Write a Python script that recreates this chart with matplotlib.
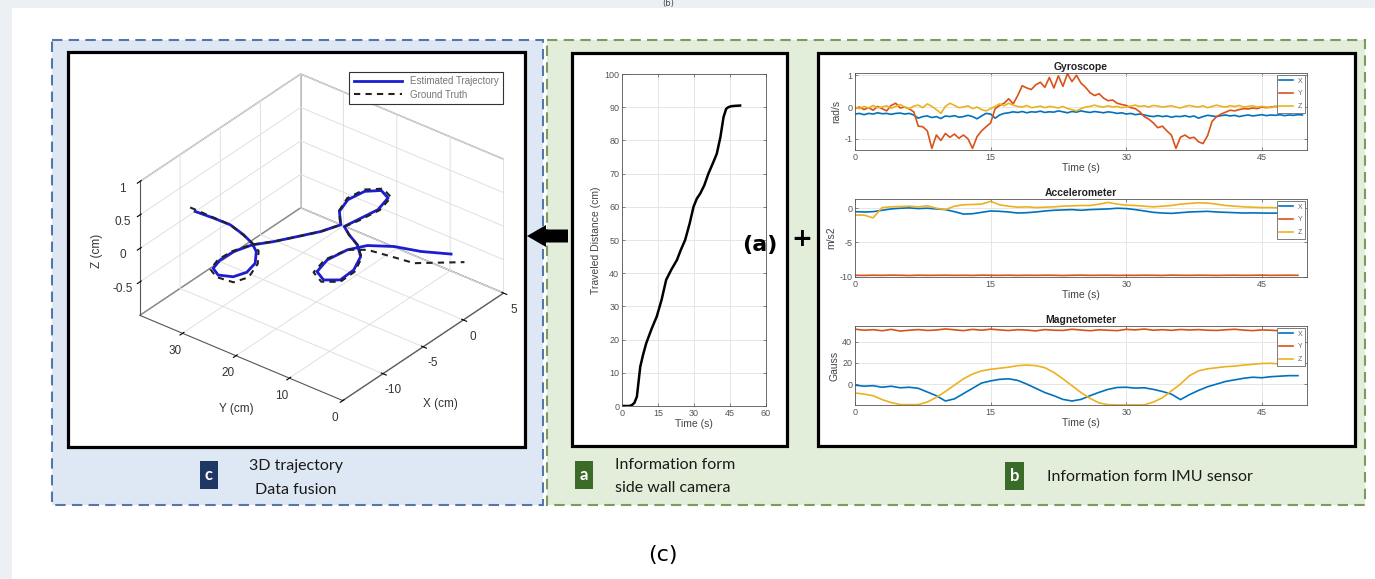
import numpy as np
import matplotlib.pyplot as plt
from matplotlib.patches import Rectangle, Polygon

W, H = 1375, 579

# ---------------- data ----------------
# (a) traveled distance from the side wall camera
dist_t = [0, 1, 2, 3, 4.2, 5.2, 6.2, 7.6, 8.8, 10.1, 12.2, 14.5, 16.5, 18.4, 20.5,
          22.9, 24.5, 26.3, 28.2, 29.8, 31.2, 32.6, 34.3, 36.0, 37.8, 39.5, 41.0,
          42.3, 43.4, 44.3, 45.5, 47.0, 49.2]
dist_cm = [0, 0, 0, 0, 0.3, 1.0, 2.8, 11.8, 15.5, 18.9, 23, 27, 32, 38, 41,
           44, 47, 50, 55, 60, 62.5, 64, 66.5, 70, 73, 76, 81,
           87, 89.5, 90, 90.3, 90.4, 90.5]

# (b) IMU gyroscope, sampled every 0.5 s
gyro_x = [-0.22, -0.20, -0.24, -0.20, -0.22, -0.18, -0.21, -0.20, -0.23, -0.20,
          -0.19, -0.22, -0.20, -0.25, -0.35, -0.30, -0.28, -0.33, -0.30, -0.36,
          -0.28, -0.30, -0.27, -0.32, -0.30, -0.26, -0.30, -0.37, -0.28, -0.20,
          -0.22, -0.35, -0.25, -0.20, -0.18, -0.15, -0.17, -0.14, -0.18, -0.15,
          -0.16, -0.13, -0.17, -0.15, -0.16, -0.12, -0.15, -0.18, -0.14, -0.16,
          -0.12, -0.15, -0.17, -0.14, -0.16, -0.18, -0.15, -0.17, -0.20, -0.18,
          -0.22, -0.20, -0.24, -0.22, -0.25, -0.28, -0.30, -0.27, -0.30, -0.28,
          -0.32, -0.29, -0.30, -0.27, -0.31, -0.28, -0.35, -0.30, -0.26, -0.28,
          -0.30, -0.27, -0.25, -0.28, -0.26, -0.30, -0.27, -0.25, -0.28, -0.26,
          -0.24, -0.27, -0.25, -0.26, -0.24, -0.27, -0.25, -0.26, -0.24, -0.25]
gyro_y = [-0.05, 0.00, -0.08, -0.02, -0.10, 0.02, -0.05, -0.12, 0.05, 0.12,
          -0.03, 0.00, -0.06, -0.15, -0.60, -0.62, -0.75, -1.30, -0.88, -1.05,
          -0.83, -0.95, -0.85, -0.98, -0.88, -1.00, -1.30, -0.93, -0.75, -0.62,
          -0.50, -0.05, 0.05, 0.12, 0.26, 0.10, 0.36, 0.67, 0.60, 0.55,
          0.70, 0.78, 0.62, 0.93, 0.60, 0.98, 0.65, 1.05, 0.80, 1.00,
          0.75, 0.62, 0.45, 0.36, 0.42, 0.28, 0.20, 0.22, 0.12, 0.08,
          0.05, -0.02, -0.05, -0.15, -0.30, -0.38, -0.50, -0.65, -0.60, -0.75,
          -0.88, -1.30, -0.95, -0.88, -0.98, -0.95, -1.09, -1.15, -0.90, -0.45,
          -0.30, -0.22, -0.16, -0.10, -0.12, -0.08, -0.05, -0.06, -0.03, -0.05,
          0.00, -0.02, 0.00, 0.02, 0.00, 0.01, 0.00, 0.02, 0.00, 0.01]
gyro_z = [0.00, -0.05, 0.02, -0.03, 0.05, -0.02, 0.00, 0.04, -0.04, 0.02,
          0.08, 0.00, -0.05, 0.03, 0.06, -0.02, 0.10, 0.02, -0.08, -0.20,
          0.02, 0.12, 0.05, -0.02, 0.00, 0.04, -0.05, 0.00, -0.08, -0.12,
          -0.05, 0.02, 0.10, 0.04, 0.12, 0.06, 0.02, 0.00, 0.05, -0.02,
          0.00, 0.03, -0.02, 0.02, 0.00, -0.03, 0.02, -0.05, -0.08, -0.12,
          -0.05, 0.00, 0.02, 0.06, 0.02, 0.00, 0.04, 0.00, 0.02, -0.02,
          0.00, 0.03, 0.06, 0.02, 0.04, 0.00, 0.05, 0.03, 0.00, 0.02,
          0.04, 0.00, -0.03, 0.02, 0.05, 0.02, 0.00, 0.04, -0.02, 0.02,
          0.06, 0.02, 0.00, 0.04, 0.02, 0.05, 0.00, 0.02, 0.04, 0.00,
          0.02, 0.00, -0.02, 0.02, 0.00, 0.03, 0.00, 0.02, 0.00, 0.01]

# accelerometer, sampled every 1 s
acc_x = [-0.50, -0.55, -0.50, -0.30, -0.10, 0.00, 0.05, -0.05, 0.00, -0.10,
         -0.20, -0.50, -0.85, -0.80, -0.60, -0.40, -0.45, -0.55, -0.70, -0.65,
         -0.55, -0.40, -0.30, -0.25, -0.20, -0.30, -0.20, -0.15, -0.10, 0.00,
         -0.05, -0.20, -0.40, -0.60, -0.70, -0.75, -0.65, -0.55, -0.50, -0.45,
         -0.55, -0.60, -0.65, -0.70, -0.68, -0.70, -0.72, -0.70, -0.70, -0.72]
acc_y = [-9.80, -9.82, -9.79, -9.81, -9.78, -9.80, -9.83, -9.79, -9.81, -9.80,
         -9.79, -9.81, -9.80, -9.82, -9.78, -9.80, -9.81, -9.79, -9.82, -9.80,
         -9.81, -9.79, -9.80, -9.83, -9.80, -9.78, -9.81, -9.80, -9.79, -9.82,
         -9.80, -9.81, -9.79, -9.80, -9.82, -9.78, -9.80, -9.81, -9.79, -9.80,
         -9.82, -9.80, -9.79, -9.81, -9.80, -9.78, -9.81, -9.80, -9.79, -9.80]
acc_z = [-1.00, -1.00, -1.40, 0.10, 0.20, 0.25, 0.30, 0.20, 0.35, 0.00,
         -0.20, 0.30, 0.50, 0.55, 0.60, 1.00, 0.50, 0.30, 0.15, 0.20,
         0.10, 0.15, 0.20, 0.30, 0.35, 0.40, 0.40, 0.60, 0.85, 0.60,
         0.45, 0.40, 0.30, 0.20, 0.30, 0.40, 0.60, 0.70, 0.80, 0.75,
         0.60, 0.40, 0.30, 0.20, 0.15, 0.10, 0.10, 0.05, 0.10, 0.05]

# magnetometer, sampled every 1 s
mag_x = [-1.0, -2.0, -1.5, -3.0, -2.0, -3.5, -3.0, -4.0, -7.5, -11.0,
         -16.0, -14.0, -9.0, -4.0, 1.0, 3.0, 4.5, 5.0, 3.5, 0.0,
         -4.0, -8.0, -11.0, -14.5, -16.0, -14.5, -11.0, -7.8, -5.0, -3.2,
         -3.0, -3.8, -3.5, -5.0, -7.0, -9.5, -14.7, -10.0, -6.0, -2.5,
         0.0, 2.5, 4.0, 5.5, 6.5, 6.0, 7.0, 7.5, 8.0, 8.0]
mag_y = [52.0, 51.0, 51.5, 50.5, 51.8, 50.2, 51.0, 51.6, 50.8, 51.2,
         52.2, 51.4, 50.6, 51.8, 51.0, 52.0, 51.3, 50.7, 51.5, 51.1,
         50.4, 51.6, 51.0, 50.8, 51.9, 51.2, 50.5, 51.4, 51.0, 50.6,
         51.8, 51.3, 52.1, 51.0, 51.5, 50.9, 51.7, 51.2, 51.6, 51.0,
         50.8, 51.4, 51.9, 51.1, 50.6, 51.3, 51.0, 50.5, 50.8, 50.4]
mag_z = [-8.4, -9.5, -11.0, -14.7, -17.5, -19.4, -19.5, -19.4, -17.0, -12.5,
         -7.0, -1.0, 5.0, 9.5, 12.5, 14.0, 15.0, 16.0, 17.5, 18.0,
         17.5, 15.5, 11.0, 5.0, -1.5, -8.0, -13.5, -17.8, -19.5, -19.7,
         -19.7, -19.6, -19.7, -17.0, -13.0, -6.5, 0.0, 8.0, 12.5, 14.5,
         15.5, 16.5, 17.0, 18.0, 18.7, 19.5, 19.7, 19.0, 18.5, 18.0]

# (c) 3D trajectory (cm)
est_x = [-11.95, -11.06, -10.26, -9.62, -9.02, -9.78, -11.17, -12.60, -13.76, -14.29,
         -13.76, -12.48, -10.88, -9.22, -7.80, -6.09, -4.39, -2.65, -1.20, 0.55,
         2.31, 3.20, 2.68, 0.85, -1.27, -2.69, -3.40, -4.15, -5.34, -7.19,
         -8.98, -9.79, -9.15, -7.32, -5.21, -3.75, -2.58, -1.86, -0.71]
est_y = [32.25, 30.15, 28.20, 26.67, 26.00, 24.06, 22.18, 21.60, 22.39, 24.41,
         26.14, 26.79, 26.68, 25.70, 23.78, 21.93, 20.10, 18.95, 21.42, 22.46,
         21.96, 20.20, 18.13, 17.28, 17.87, 18.27, 16.27, 13.59, 11.20, 9.70,
         9.52, 11.44, 13.63, 14.48, 13.89, 12.32, 9.08, 5.14, 1.23]
est_z = [0.50, 0.40, 0.30, 0.15, 0.00, 0.00, 0.00, 0.00, 0.00, 0.00,
         0.00, 0.00, 0.00, 0.00, 0.00, 0.00, 0.00, 0.00, 0.00, 0.00,
         0.00, 0.00, 0.00, 0.00, 0.00, 0.00, 0.00, 0.00, 0.00, 0.00,
         0.00, 0.00, 0.00, 0.00, 0.00, 0.00, 0.00, 0.00, 0.00]
gt_x = [-11.73, -11.00, -10.10, -9.50, -9.00, -9.60, -11.10, -12.70, -14.00, -14.60,
        -14.00, -12.50, -10.90, -9.20, -7.80, -6.10, -4.40, -2.70, -1.10, 0.70,
        2.50, 3.50, 2.90, 0.90, -1.30, -2.70, -3.40, -4.20, -5.40, -7.30,
        -9.20, -10.10, -9.40, -7.40, -5.20, -4.24, -3.50, -2.76, 0.54]
gt_y = [33.50, 30.60, 28.50, 26.90, 26.00, 23.90, 21.80, 21.10, 22.00, 24.30,
        26.30, 27.10, 26.90, 25.80, 23.80, 21.90, 20.10, 19.00, 21.60, 22.80,
        22.30, 20.30, 17.90, 17.00, 17.60, 18.20, 16.30, 13.50, 10.90, 9.30,
        9.20, 11.40, 13.90, 14.80, 13.90, 11.58, 8.50, 5.06, 0.61]
gt_z = [0.50, 0.40, 0.28, 0.13, 0.00, 0.00, 0.00, -0.05, -0.05, 0.00,
        0.00, 0.00, 0.00, 0.00, 0.00, 0.00, 0.00, 0.00, 0.00, 0.00,
        0.00, 0.00, 0.00, 0.00, 0.00, 0.00, 0.00, 0.00, 0.00, 0.00,
        0.00, 0.00, 0.00, 0.00, 0.00, 0.00, -0.05, -0.10, -0.20]

gyro_t = np.arange(len(gyro_y)) * 0.5
acc_t = np.arange(len(acc_x)) * 1.0
mag_t = np.arange(len(mag_x)) * 1.0

C_BLUE, C_ORANGE, C_YELLOW = '#0072BD', '#D95319', '#EDB120'

plt.rcParams['font.family'] = ['Liberation Sans', 'DejaVu Sans']
plt.rcParams['axes.unicode_minus'] = False
plt.rcParams['grid.color'] = '#e2e2e2'
plt.rcParams['grid.linewidth'] = 0.6


def box(x0, y0, x1, y1):
    # pixel rectangle (top-left origin) -> figure fraction
    return [x0 / W, 1 - y1 / H, (x1 - x0) / W, (y1 - y0) / H]


fig = plt.figure(figsize=(W / 100, H / 100), dpi=100)

# ---------------- background layout ----------------
bg = fig.add_axes([0, 0, 1, 1])
bg.set_xlim(0, W)
bg.set_ylim(H, 0)
bg.axis('off')
bg.add_patch(Rectangle((0, 0), W, 8, fc='#eceff3', ec='none'))
bg.add_patch(Rectangle((0, 0), 12, H, fc='#eceff3', ec='none'))
bg.text(668, 8, '(b)', ha='center', va='bottom', fontsize=6, color='#444444',
        family='DejaVu Sans')

bg.add_patch(Rectangle((52, 40), 491, 465, fc='#dee8f4', ec='#5476aa', lw=1.5, ls=(0, (5, 3))))
bg.add_patch(Rectangle((547, 40), 818, 465, fc='#e2eed9', ec='#7b9c5e', lw=1.5, ls=(0, (5, 3))))

for x0, y0, x1, y1 in [(68, 52, 525, 447), (572, 53, 787, 446), (818, 53, 1355, 446)]:
    bg.add_patch(Rectangle((x0, y0), x1 - x0, y1 - y0, fc='white', ec='black', lw=2.3))

bg.add_patch(Polygon([(527, 236), (546, 225), (546, 229.5), (568, 229.5), (568, 242.5),
                      (546, 242.5), (546, 247)], closed=True, fc='black', ec='none'))

# panel captions
lab = dict(family='Lato', fontsize=11.5, color='#1a1a1a')
bg.add_patch(Rectangle((200, 461), 18, 28, fc='#1f3763', ec='none'))
bg.text(209, 475, 'c', ha='center', va='center', color='white', fontsize=12,
        fontweight='bold', family='Lato')
bg.text(296, 466, '3D trajectory', ha='center', va='center', **lab)
bg.text(296, 490, 'Data fusion', ha='center', va='center', **lab)

bg.add_patch(Rectangle((575, 461), 18, 28, fc='#3b6b28', ec='none'))
bg.text(584, 475, 'a', ha='center', va='center', color='white', fontsize=12,
        fontweight='bold', family='Lato')
bg.text(615, 465, 'Information form', ha='left', va='center', **lab)
bg.text(615, 488, 'side wall camera', ha='left', va='center', **lab)

bg.add_patch(Rectangle((1005, 462), 19, 28, fc='#3b6b28', ec='none'))
bg.text(1014.5, 476, 'b', ha='center', va='center', color='white', fontsize=12,
        fontweight='bold', family='Lato')
bg.text(1047, 477, 'Information form IMU sensor', ha='left', va='center', **lab)

bg.text(663, 555, '(c)', ha='center', va='center', fontsize=16, family='DejaVu Sans')


def matlab_style(ax, fs=6.5):
    ax.grid(True)
    ax.set_axisbelow(True)
    for s in ax.spines.values():
        s.set_color('#555555')
        s.set_linewidth(0.6)
    ax.tick_params(direction='in', top=True, right=True, length=2.5, width=0.5,
                   labelsize=fs, colors='#555555', pad=2)


# ---------------- (a) traveled distance ----------------
axd = fig.add_axes(box(622, 74, 766, 406))
axd.plot(dist_t, dist_cm, color='black', lw=1.8)
axd.set_xlim(0, 60)
axd.set_ylim(0, 100)
axd.set_xticks([0, 15, 30, 45, 60])
axd.set_yticks(range(0, 101, 10))
matlab_style(axd, 6.5)
axd.set_xlabel('Time (s)', fontsize=7.5, color='#444444', labelpad=1)
axd.set_ylabel('Traveled Distance (cm)', fontsize=7.5, color='#444444', labelpad=2)

# ---------------- (b) IMU panels ----------------
imu = [
    ('Gyroscope', 'rad/s', (73, 150), gyro_t, (gyro_x, gyro_y, gyro_z), (-1.35, 1.07), [-1, 0, 1]),
    ('Accelerometer', 'm/s2', (199, 277), acc_t, (acc_x, acc_y, acc_z), (-10.05, 1.35), [-10, -5, 0]),
    ('Magnetometer', 'Gauss', (326, 405), mag_t, (mag_x, mag_y, mag_z), (-19.8, 55), [0, 20, 40]),
]
for title, ylab, (y0, y1), t, series, ylim, yt in imu:
    ax = fig.add_axes(box(855, y0, 1307, y1))
    for vals, c, name in zip(series, (C_BLUE, C_ORANGE, C_YELLOW), ('X', 'Y', 'Z')):
        ax.plot(t, vals, color=c, lw=1.2, label=name)
    ax.set_xlim(0, 50)
    ax.set_ylim(*ylim)
    ax.set_xticks([0, 15, 30, 45])
    ax.set_yticks(yt)
    matlab_style(ax, 6.5)
    ax.set_title(title, fontsize=7.5, fontweight='bold', pad=2.5, color='#222222')
    ax.set_xlabel('Time (s)', fontsize=7.5, color='#444444', labelpad=1)
    ax.set_ylabel(ylab, fontsize=7.5, color='#444444', labelpad=2)
    leg = ax.legend(loc='upper right', fontsize=5, handlelength=2.0, borderpad=0.4,
                    labelspacing=0.8, borderaxespad=0.3, fancybox=False, framealpha=1,
                    handletextpad=0.6)
    leg.get_frame().set_edgecolor('#666666')
    leg.get_frame().set_linewidth(0.6)
    for txt in leg.get_texts():
        txt.set_color('#666666')

# ---------------- (c) 3D trajectory ----------------
ax3 = fig.add_axes(box(92, 49, 541, 436), projection='3d', proj_type='ortho')
ax3.patch.set_alpha(0)
ax3.plot(est_x, est_y, est_z, color='#1c1cd0', lw=2.0, label='Estimated Trajectory')
ax3.plot(gt_x, gt_y, gt_z, color='#222222', lw=1.5, ls=(0, (3, 2.5)), label='Ground Truth')
ax3.set_xlim(-15, 5)
ax3.set_ylim(0, 38)
ax3.set_zlim(-1, 1)
ax3.set_xticks([-10, -5, 0, 5])
ax3.set_yticks([0, 10, 20, 30])
ax3.set_zticks([-0.5, 0, 0.5, 1])
ax3.set_zticklabels(['-0.5', '0', '0.5', '1'])
ax3.set_box_aspect((1, 1, 0.61))
ax3.view_init(elev=32, azim=-141.6)
for a in (ax3.xaxis, ax3.yaxis, ax3.zaxis):
    a.set_pane_color((1, 1, 1, 1))
    a.pane.set_edgecolor('#8a8a8a')
    a.line.set_color('#555555')
    a._axinfo['grid'].update(color='#e0e0e0', linewidth=0.7)
ax3.tick_params(labelsize=8.5, labelcolor='#333333', pad=-1)
ax3.set_zlabel('Z (cm)', fontsize=8.5, color='#333333', labelpad=-4)
leg3 = ax3.legend(loc='upper right', bbox_to_anchor=(508 / W, 1 - 67 / H),
                  bbox_transform=fig.transFigure, fontsize=7, handlelength=5,
                  fancybox=False, framealpha=1, borderpad=0.45, labelspacing=0.35)
leg3.get_frame().set_edgecolor('#333333')
leg3.get_frame().set_linewidth(0.8)
for txt in leg3.get_texts():
    txt.set_color('#777777')

# x / y axis titles of the 3D box, placed the way MATLAB puts them
fig.text(440, 404, 'X (cm)', transform=bg.transData, ha='center', va='center',
         fontsize=8.5, color='#333333')
fig.text(236, 409, 'Y (cm)', transform=bg.transData, ha='center', va='center',
         fontsize=8.5, color='#333333')

# labels that sit on top of the panels
fig.text(760, 245, '(a)', transform=bg.transData, ha='center', va='center', fontsize=16,
         fontweight='bold', family='DejaVu Sans')
fig.text(802, 239, '+', transform=bg.transData, ha='center', va='center', fontsize=18,
         fontweight='bold', family='DejaVu Sans')

fig.savefig('out.png', dpi=100)
